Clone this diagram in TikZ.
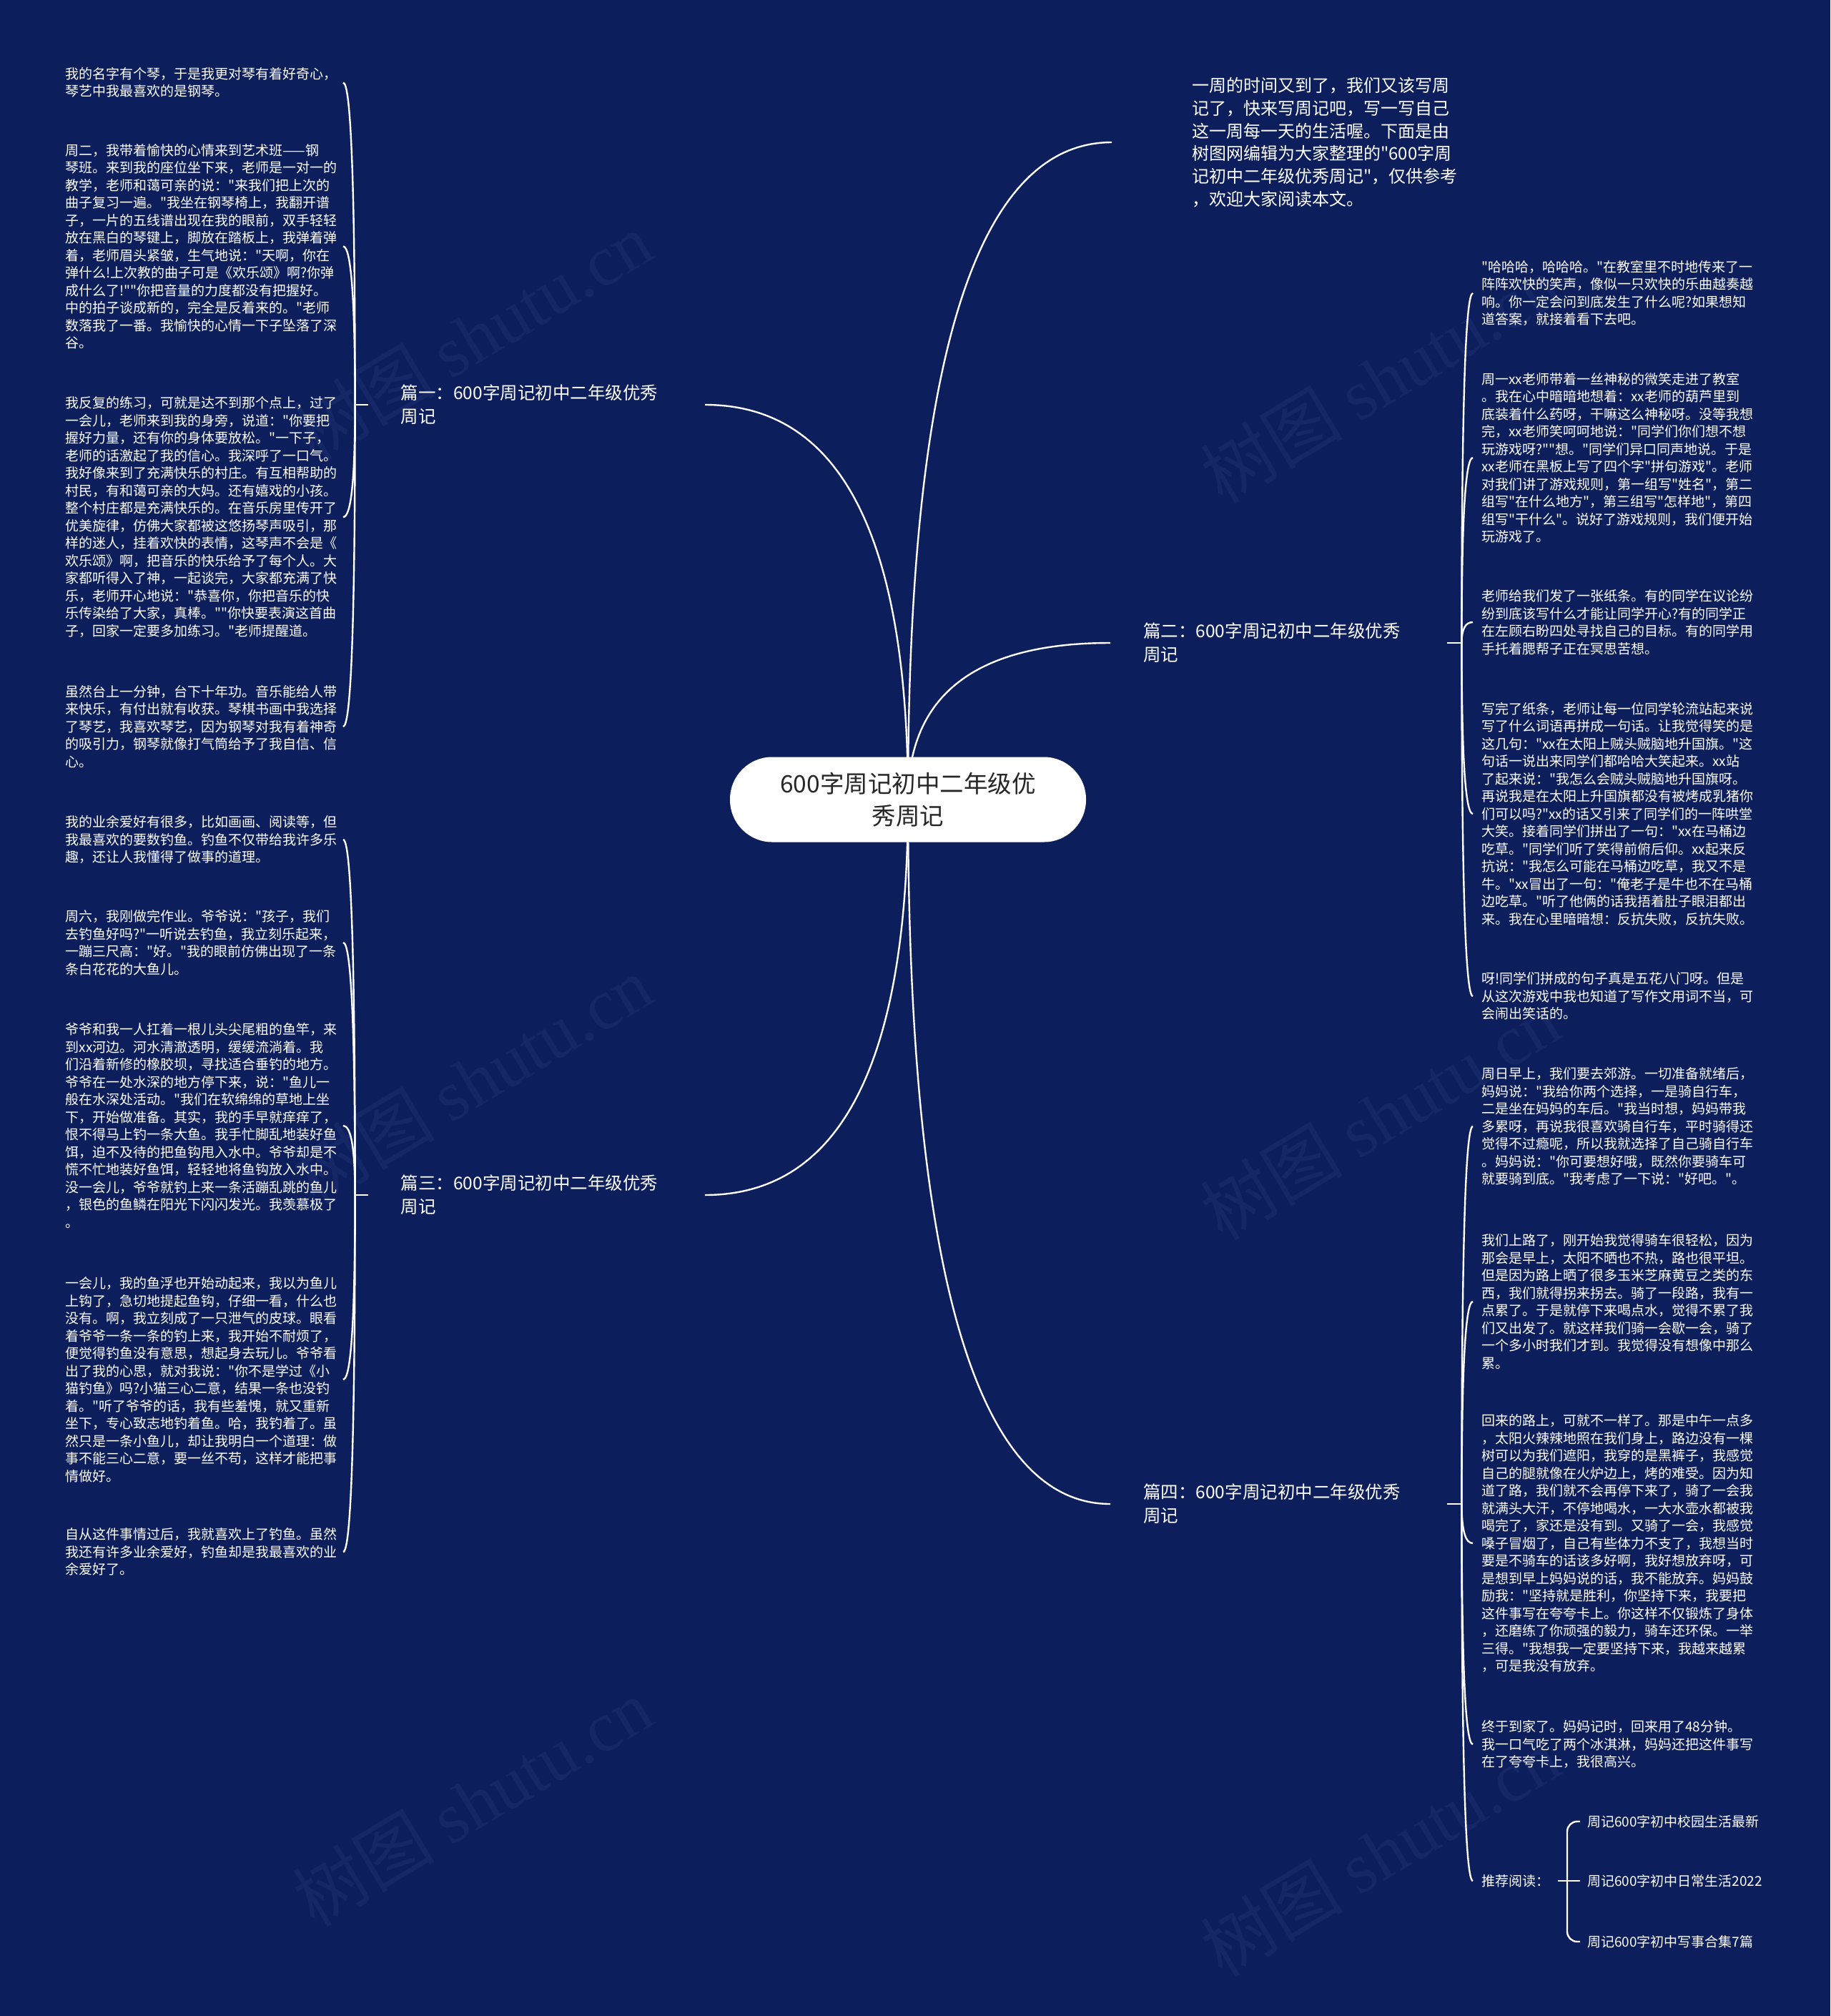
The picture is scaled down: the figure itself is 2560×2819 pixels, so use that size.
\documentclass[tikz,border=0pt]{standalone}
\usepackage{fontspec}
\setmainfont{Noto Sans CJK SC}[Ligatures=TeXOff]
\newfontfamily\wmserif{Liberation Serif}
\usetikzlibrary{calc}
\pgfdeclarelayer{bglayer}
\pgfsetlayers{bglayer,main}
\definecolor{bgnavy}{HTML}{0C1E5B}
\definecolor{wmcol}{HTML}{162768}
\tikzset{
  qc/.style={to path={.. controls ($(\tikztostart)!0.6667!(\tikztostart|-\tikztotarget)$) and ($(\tikztotarget)!0.6667!(\tikztostart|-\tikztotarget)$) .. (\tikztotarget)}},
  link/.style={draw=white,line width=2.4pt},
  leafbase/.style={text=white,font=\fontsize{19pt}{24.5pt}\selectfont,text width=376pt,align=left,inner xsep=12pt,inner ysep=0pt},
  leafL/.style={leafbase,anchor=east},
  leafR/.style={leafbase,anchor=west},
  recitem/.style={text=white,font=\fontsize{19pt}{24.5pt}\selectfont,anchor=west,inner xsep=10pt,inner ysep=0pt},
  branchbase/.style={text=white,font=\fontsize{24.5pt}{33pt}\selectfont,text width=379pt,align=left,inner xsep=46pt,inner ysep=0pt},
  branchL/.style={branchbase,anchor=east},
  branchR/.style={branchbase,anchor=west},
  rootnode/.style={fill=white,rounded corners=59pt,minimum width=498pt,minimum height=119pt,text=black!85,font=\fontsize{33.5pt}{45pt}\selectfont,align=center,inner sep=0pt},
  introbox/.style={text=white,font=\fontsize{24pt}{31.7pt}\selectfont,text width=420pt,align=left,inner sep=0pt,anchor=west},
  wm/.style={text=wmcol,font=\fontsize{100pt}{100pt}\selectfont,rotate=31,inner sep=0pt}
}
\begin{document}
\begin{tikzpicture}[x=1pt,y=-1pt]
\useasboundingbox (0,0) rectangle (2560,2819);
% root
\node[rootnode] (c) at (1270,1118) {600字周记初中二年级优\\秀周记};
% intro
\node[introbox] (intro) at (1667,199) {一周的时间又到了，我们又该写周\\记了，快来写周记吧，写一写自己\\这一周每一天的生活喔。下面是由\\树图网编辑为大家整理的"600字周\\记初中二年级优秀周记"，仅供参考\\，欢迎大家阅读本文。};
% branches
\node[branchL] (b1) at (986,566) {篇一：600字周记初中二年级优秀\\周记};
\node[branchR] (b2) at (1553,899) {篇二：600字周记初中二年级优秀\\周记};
\node[branchL] (b3) at (986,1671) {篇三：600字周记初中二年级优秀\\周记};
\node[branchR] (b4) at (1553,2103) {篇四：600字周记初中二年级优秀\\周记};
\coordinate (j1) at ([xshift=-18pt]b1.west);
\coordinate (j2) at ([xshift=20pt]b2.east);
\coordinate (j3) at ([xshift=-18pt]b3.west);
\coordinate (j4) at ([xshift=20pt]b4.east);
% branch 1 leaves
\node[leafL] (a1) at (480,115.5) {我的名字有个琴，于是我更对琴有着好奇心，\\琴艺中我最喜欢的是钢琴。};
\node[leafL] (a2) at (480,344.5) {周二，我带着愉快的心情来到艺术班——钢\\琴班。来到我的座位坐下来，老师是一对一的\\教学，老师和蔼可亲的说："来我们把上次的\\曲子复习一遍。"我坐在钢琴椅上，我翻开谱\\子，一片的五线谱出现在我的眼前，双手轻轻\\放在黑白的琴键上，脚放在踏板上，我弹着弹\\着，老师眉头紧皱，生气地说："天啊，你在\\弹什么!上次教的曲子可是《欢乐颂》啊?你弹\\成什么了!""你把音量的力度都没有把握好。\\中的拍子谈成新的，完全是反着来的。"老师\\数落我了一番。我愉快的心情一下子坠落了深\\谷。};
\node[leafL] (a3) at (480,723) {我反复的练习，可就是达不到那个点上，过了\\一会儿，老师来到我的身旁，说道："你要把\\握好力量，还有你的身体要放松。"一下子，\\老师的话激起了我的信心。我深呼了一口气。\\我好像来到了充满快乐的村庄。有互相帮助的\\村民，有和蔼可亲的大妈。还有嬉戏的小孩。\\整个村庄都是充满快乐的。在音乐房里传开了\\优美旋律，仿佛大家都被这悠扬琴声吸引，那\\样的迷人，挂着欢快的表情，这琴声不会是《\\欢乐颂》啊，把音乐的快乐给予了每个人。大\\家都听得入了神，一起谈完，大家都充满了快\\乐，老师开心地说："恭喜你，你把音乐的快\\乐传染给了大家，真棒。""你快要表演这首曲\\子，回家一定要多加练习。"老师提醒道。};
\node[leafL] (a4) at (480,1016) {虽然台上一分钟，台下十年功。音乐能给人带\\来快乐，有付出就有收获。琴棋书画中我选择\\了琴艺，我喜欢琴艺，因为钢琴对我有着神奇\\的吸引力，钢琴就像打气筒给予了我自信、信\\心。};
% branch 3 leaves
\node[leafL] (d1) at (480,1174) {我的业余爱好有很多，比如画画、阅读等，但\\我最喜欢的要数钓鱼。钓鱼不仅带给我许多乐\\趣，还让人我懂得了做事的道理。};
\node[leafL] (d2) at (480,1318) {周六，我刚做完作业。爷爷说："孩子，我们\\去钓鱼好吗?"一听说去钓鱼，我立刻乐起来，\\一蹦三尺高："好。"我的眼前仿佛出现了一条\\条白花花的大鱼儿。};
\node[leafL] (d3) at (480,1574) {爷爷和我一人扛着一根儿头尖尾粗的鱼竿，来\\到xx河边。河水清澈透明，缓缓流淌着。我\\们沿着新修的橡胶坝，寻找适合垂钓的地方。\\爷爷在一处水深的地方停下来，说："鱼儿一\\般在水深处活动。"我们在软绵绵的草地上坐\\下，开始做准备。其实，我的手早就痒痒了，\\恨不得马上钓一条大鱼。我手忙脚乱地装好鱼\\饵，迫不及待的把鱼钩甩入水中。爷爷却是不\\慌不忙地装好鱼饵，轻轻地将鱼钩放入水中。\\没一会儿，爷爷就钓上来一条活蹦乱跳的鱼儿\\，银色的鱼鳞在阳光下闪闪发光。我羡慕极了\\。};
\node[leafL] (d4) at (480,1929) {一会儿，我的鱼浮也开始动起来，我以为鱼儿\\上钩了，急切地提起鱼钩，仔细一看，什么也\\没有。啊，我立刻成了一只泄气的皮球。眼看\\着爷爷一条一条的钓上来，我开始不耐烦了，\\便觉得钓鱼没有意思，想起身去玩儿。爷爷看\\出了我的心思，就对我说："你不是学过《小\\猫钓鱼》吗?小猫三心二意，结果一条也没钓\\着。"听了爷爷的话，我有些羞愧，就又重新\\坐下，专心致志地钓着鱼。哈，我钓着了。虽\\然只是一条小鱼儿，却让我明白一个道理：做\\事不能三心二意，要一丝不苟，这样才能把事\\情做好。};
\node[leafL] (d5) at (480,2170) {自从这件事情过后，我就喜欢上了钓鱼。虽然\\我还有许多业余爱好，钓鱼却是我最喜欢的业\\余爱好了。};
% branch 2 leaves
\node[leafR] (e1) at (2060,410) {"哈哈哈，哈哈哈。"在教室里不时地传来了一\\阵阵欢快的笑声，像似一只欢快的乐曲越奏越\\响。你一定会问到底发生了什么呢?如果想知\\道答案，就接着看下去吧。};
\node[leafR] (e2) at (2060,640) {周一xx老师带着一丝神秘的微笑走进了教室\\。我在心中暗暗地想着：xx老师的葫芦里到\\底装着什么药呀，干嘛这么神秘呀。没等我想\\完，xx老师笑呵呵地说："同学们你们想不想\\玩游戏呀?""想。"同学们异口同声地说。于是\\xx老师在黑板上写了四个字"拼句游戏"。老师\\对我们讲了游戏规则，第一组写"姓名"，第二\\组写"在什么地方"，第三组写"怎样地"，第四\\组写"干什么"。说好了游戏规则，我们便开始\\玩游戏了。};
\node[leafR] (e3) at (2060,870) {老师给我们发了一张纸条。有的同学在议论纷\\纷到底该写什么才能让同学开心?有的同学正\\在左顾右盼四处寻找自己的目标。有的同学用\\手托着腮帮子正在冥思苦想。};
\node[leafR] (e4) at (2060,1138) {写完了纸条，老师让每一位同学轮流站起来说\\写了什么词语再拼成一句话。让我觉得笑的是\\这几句："xx在太阳上贼头贼脑地升国旗。"这\\句话一说出来同学们都哈哈大笑起来。xx站\\了起来说："我怎么会贼头贼脑地升国旗呀。\\再说我是在太阳上升国旗都没有被烤成乳猪你\\们可以吗?"xx的话又引来了同学们的一阵哄堂\\大笑。接着同学们拼出了一句："xx在马桶边\\吃草。"同学们听了笑得前俯后仰。xx起来反\\抗说："我怎么可能在马桶边吃草，我又不是\\牛。"xx冒出了一句："俺老子是牛也不在马桶\\边吃草。"听了他俩的话我捂着肚子眼泪都出\\来。我在心里暗暗想：反抗失败，反抗失败。};
\node[leafR] (e5) at (2060,1393) {呀!同学们拼成的句子真是五花八门呀。但是\\从这次游戏中我也知道了写作文用词不当，可\\会闹出笑话的。};
% branch 4 leaves
\node[leafR] (f1) at (2060,1575) {周日早上，我们要去郊游。一切准备就绪后，\\妈妈说："我给你两个选择，一是骑自行车，\\二是坐在妈妈的车后。"我当时想，妈妈带我\\多累呀，再说我很喜欢骑自行车，平时骑得还\\觉得不过瘾呢，所以我就选择了自己骑自行车\\。妈妈说："你可要想好哦，既然你要骑车可\\就要骑到底。"我考虑了一下说："好吧。"。};
\node[leafR] (f2) at (2060,1820) {我们上路了，刚开始我觉得骑车很轻松，因为\\那会是早上，太阳不晒也不热，路也很平坦。\\但是因为路上晒了很多玉米芝麻黄豆之类的东\\西，我们就得拐来拐去。骑了一段路，我有一\\点累了。于是就停下来喝点水，觉得不累了我\\们又出发了。就这样我们骑一会歇一会，骑了\\一个多小时我们才到。我觉得没有想像中那么\\累。};
\node[leafR] (f3) at (2060,2158) {回来的路上，可就不一样了。那是中午一点多\\，太阳火辣辣地照在我们身上，路边没有一棵\\树可以为我们遮阳，我穿的是黑裤子，我感觉\\自己的腿就像在火炉边上，烤的难受。因为知\\道了路，我们就不会再停下来了，骑了一会我\\就满头大汗，不停地喝水，一大水壶水都被我\\喝完了，家还是没有到。又骑了一会，我感觉\\嗓子冒烟了，自己有些体力不支了，我想当时\\要是不骑车的话该多好啊，我好想放弃呀，可\\是想到早上妈妈说的话，我不能放弃。妈妈鼓\\励我："坚持就是胜利，你坚持下来，我要把\\这件事写在夸夸卡上。你这样不仅锻炼了身体\\，还磨练了你顽强的毅力，骑车还环保。一举\\三得。"我想我一定要坚持下来，我越来越累\\，可是我没有放弃。};
\node[leafR] (f4) at (2060,2439) {终于到家了。妈妈记时，回来用了48分钟。\\我一口气吃了两个冰淇淋，妈妈还把这件事写\\在了夸夸卡上，我很高兴。};
\node[recitem,inner xsep=12pt] (rec) at (2060,2630) {推荐阅读：};
\coordinate (rj) at (2192,2630);
\node[recitem] (g1) at (2210,2547) {周记600字初中校园生活最新};
\node[recitem] (g2) at (2210,2630) {周记600字初中日常生活2022};
\node[recitem] (g3) at (2210,2715) {周记600字初中写事合集7篇};

\begin{pgfonlayer}{bglayer}
\fill[bgnavy] (0,0) rectangle (2560,2819);
\node[wm] (w1) at (660,470) {树图 {\wmserif shutu.cn}};
\node[wm] (w2) at (660,1510) {树图 {\wmserif shutu.cn}};
\node[wm] (w3) at (660,2520) {树图 {\wmserif shutu.cn}};
\node[wm] (w4) at (1930,530) {树图 {\wmserif shutu.cn}};
\node[wm] (w5) at (1930,1560) {树图 {\wmserif shutu.cn}};
\node[wm] (w6) at (1930,2590) {树图 {\wmserif shutu.cn}};
% main connectors
\draw[link] (c.center) to[qc] ([xshift=-112pt]intro.west);
\draw[link] (c.center) to[qc] (b1.east);
\draw[link] (c.center) to[qc] (b2.west);
\draw[link] (c.center) to[qc] (b3.east);
\draw[link] (c.center) to[qc] (b4.west);
% stubs
\draw[link] (b1.west) -- (j1);
\draw[link] (b2.east) -- (j2);
\draw[link] (b3.west) -- (j3);
\draw[link] (b4.east) -- (j4);
% leaf connectors
\foreach \n in {a1,a2,a3,a4}{\draw[link] (j1) to[qc] (\n.east);}
\foreach \n in {d1,d2,d3,d4,d5}{\draw[link] (j3) to[qc] (\n.east);}
\foreach \n in {e1,e2,e3,e4,e5}{\draw[link] (j2) to[qc] (\n.west);}
\foreach \n in {f1,f2,f3,f4,rec}{\draw[link] (j4) to[qc] (\n.west);}
% recommended
\draw[link] (rec.east) -- (g2.west);
\draw[link,rounded corners=14pt] (rj) |- (g1.west);
\draw[link,rounded corners=14pt] (rj) |- (g3.west);
\end{pgfonlayer}
\end{tikzpicture}
\end{document}
